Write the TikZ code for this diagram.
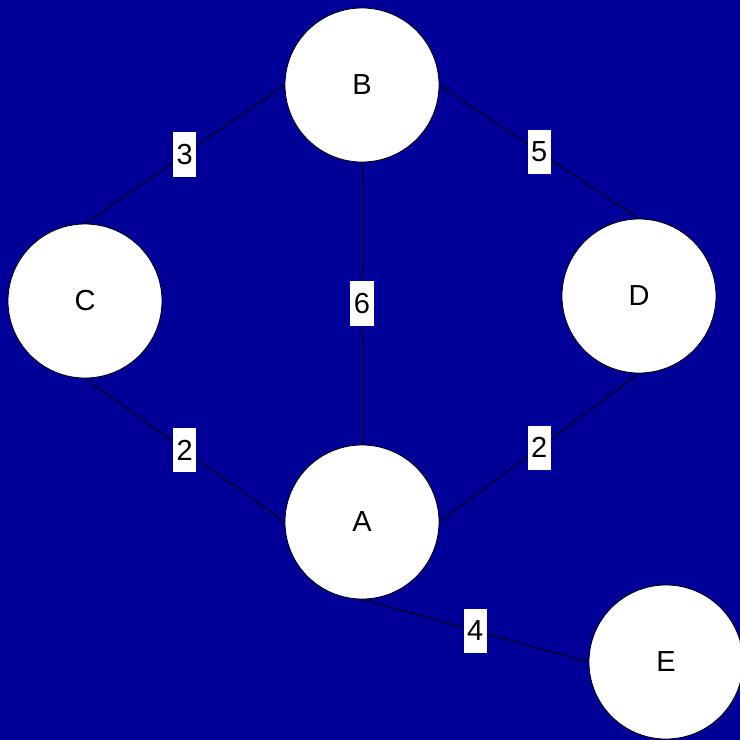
\documentclass[tikz,border=0pt]{standalone}
\usepackage{fontspec}
\setmainfont{Liberation Sans}
\definecolor{bgblue}{RGB}{0,0,153}
\begin{document}
\begin{tikzpicture}[x=1pt,y=-1pt,
  vert/.style={circle,draw=black,fill=white,line width=0.8pt,minimum size=154pt,inner sep=0pt,font=\fontsize{29}{31}\selectfont},
  edgeline/.style={draw=black,line width=0.9pt},
  wlabel/.style={fill=white,inner xsep=3.5pt,inner ysep=12pt,font=\fontsize{29}{31}\selectfont}]
\fill[bgblue] (0,0) rectangle (740,740);
\useasboundingbox (0,0) rectangle (740,740);
\node[vert] (B) at (362,85) {B};
\node[vert] (C) at (85,301) {C};
\node[vert] (D) at (639,296) {D};
\node[vert] (A) at (362,522) {A};
\node[vert] (E) at (666,662) {E};
\draw[edgeline] (B.west) -- node[wlabel] {3} (C.north);
\draw[edgeline] (B.east) -- node[wlabel] {5} (D.north);
\draw[edgeline] (B.south) -- node[wlabel] {6} (A.north);
\draw[edgeline] (C.south) -- node[wlabel] {2} (A.west);
\draw[edgeline] (D.south) -- node[wlabel] {2} (A.east);
\draw[edgeline] (A.south) -- node[wlabel] {4} (E.west);
\end{tikzpicture}
\end{document}
